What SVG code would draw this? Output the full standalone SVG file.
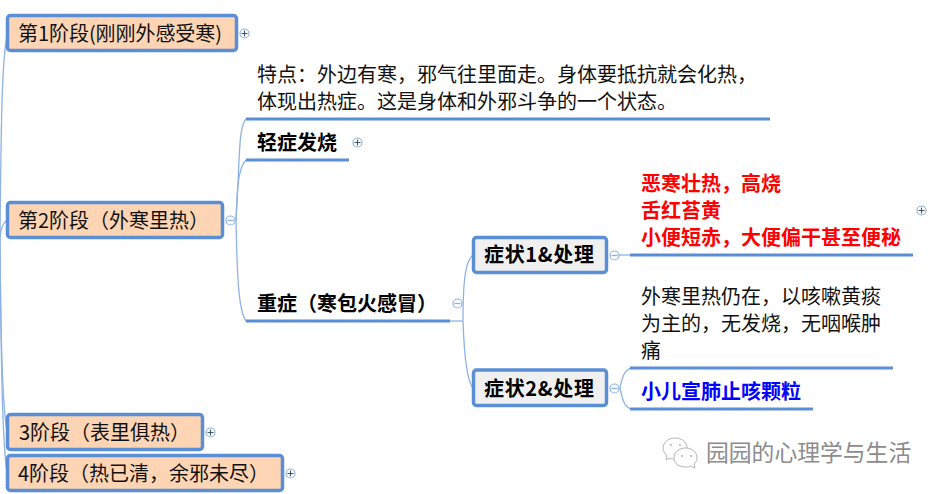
<svg xmlns="http://www.w3.org/2000/svg" width="942" height="494" viewBox="0 0 942 494">
<style>
text{font-family:"Noto Sans CJK SC","Liberation Sans",sans-serif;font-size:20px;fill:#111}
.b{font-weight:700;fill:#000}
.box{fill:#fdd5b4;stroke:#5a8fd6;stroke-width:3.5}
.gbox{fill:#f0f0f0;stroke:#5a8fd6;stroke-width:3.5}
.ul{stroke:#5a8fd6;stroke-width:3;fill:none}
.c{stroke:#8fb3e4;stroke-width:1.3;fill:none}
.tg{fill:#fff;stroke:#8fb3e4;stroke-width:1.2}
.sg{stroke:#44546a;stroke-width:1.1;fill:none}
.ic{fill:#fff;stroke:#b5b5b5;stroke-width:1}
.eye{fill:#b5b5b5}
</style>
<g id="connectors">
<path class="c" d="M0 244C1 120 2 60 7 36"/>
<path class="c" d="M0 244C0 230 2 224 7 220"/>
<path class="c" d="M0 244C1 340 2 400 7 432"/>
<path class="c" d="M0 244C1 350 2 440 7 473"/>
<path class="c" d="M236 220C240 160 238 128 246 119"/>
<path class="c" d="M236 220C237 190 238 168 246 160"/>
<path class="c" d="M236 220C237 270 238 310 246 321"/>
<path class="c" d="M450 321H463"/>
<path class="c" d="M463 321C463 290 464 262 473 255"/>
<path class="c" d="M463 321C464 350 466 380 473 388"/>
<path class="c" d="M619 255H630"/>
<path class="c" d="M620 388C622 378 624 370 631 368"/>
<path class="c" d="M620 388C622 398 624 407 631 409"/>
</g>
<g id="n1"><rect class="box" x="7.500" y="15.500" width="229" height="35" rx="3"/><text x="18" y="41" textLength="204">第1阶段(刚刚外感受寒)</text><circle class="tg" cx="244.500" cy="33.500" r="4.500"/><path class="sg" d="M241.500 33.500h6M244.500 30.500v6"/></g>
<g id="n2"><rect class="box" x="7.500" y="202.500" width="215" height="35" rx="3"/><text x="18" y="228">第2阶段（外寒里热）</text><circle class="tg" cx="230.500" cy="220.500" r="4.500"/><path class="c" d="M227.500 220.500h6"/></g>
<g id="n3"><rect class="box" x="7.500" y="414.500" width="195" height="35" rx="3"/><text x="19" y="440">3阶段（表里俱热）</text><circle class="tg" cx="210.500" cy="432.500" r="4.500"/><path class="sg" d="M207.500 432.500h6M210.500 429.500v6"/></g>
<g id="n4"><rect class="box" x="7.500" y="455.500" width="275" height="35" rx="3"/><text x="18" y="481">4阶段（热已清，余邪未尽）</text><circle class="tg" cx="290.500" cy="473.500" r="4.500"/><path class="sg" d="M287.500 473.500h6M290.500 470.500v6"/></g>
<g id="n5"><text x="257" y="82">特点：外边有寒，邪气往里面走。身体要抵抗就会化热，</text><text x="257" y="109">体现出热症。这是身体和外邪斗争的一个状态。</text><path class="ul" d="M246 119H770"/></g>
<g id="n6"><text class="b" x="257" y="150">轻症发烧</text><path class="ul" d="M246 160H349"/><circle class="tg" cx="357.500" cy="142.500" r="4.500"/><path class="sg" d="M354.500 142.500h6M357.500 139.500v6"/></g>
<g id="n7"><text class="b" x="257" y="311">重症（寒包火感冒）</text><path class="ul" d="M246 321H450"/><circle class="tg" cx="457.500" cy="303.500" r="4.500"/><path class="c" d="M454.500 303.500h6"/></g>
<g id="n8"><rect class="gbox" x="473.500" y="237.500" width="133" height="35" rx="3"/><text class="b" x="484" y="262" textLength="110">症状1&amp;处理</text><circle class="tg" cx="614.500" cy="255.500" r="4.500"/><path class="c" d="M611.500 255.500h6"/></g>
<g id="n9"><rect class="gbox" x="473.500" y="370" width="133" height="35.500" rx="3"/><text class="b" x="484" y="396" textLength="110">症状2&amp;处理</text><circle class="tg" cx="614.500" cy="388.500" r="4.500"/><path class="c" d="M611.500 388.500h6"/></g>
<g id="n10"><text class="b" style="fill:#f00" x="641" y="191">恶寒壮热，高烧</text><text class="b" style="fill:#f00" x="641" y="218">舌红苔黄</text><text class="b" style="fill:#f00" x="641" y="245">小便短赤，大便偏干甚至便秘</text><path class="ul" d="M630 255H913"/><circle class="tg" cx="921.500" cy="210.500" r="4.500"/><path class="sg" d="M918.500 210.500h6M921.500 207.500v6"/></g>
<g id="n11"><text x="641" y="304">外寒里热仍在，以咳嗽黄痰</text><text x="641" y="331">为主的，无发烧，无咽喉肿</text><text x="641" y="358">痛</text><path class="ul" d="M630 368H893"/></g>
<g id="n12"><text class="b" style="fill:#00f" x="641" y="399">小儿宣肺止咳颗粒</text><path class="ul" d="M630 409H813"/></g>
<g id="watermark">
<path class="ic" d="M675 438c-7 0-12 5-12 10 0 3 2 6 4 8l-1 4 4-2c2 1 3 1 5 1 7 0 12-5 12-11s-5-10-12-10z"/>
<circle class="eye" cx="671" cy="445" r="1"/><circle class="eye" cx="680" cy="445" r="1"/>
<path class="ic" d="M686 448c-7 0-12 4-12 10s5 9 12 9c2 0 3 0 4-1l5 2-1-4c2-2 3-4 3-6 0-6-5-10-11-10z"/>
<circle class="eye" cx="682" cy="456" r="1"/><circle class="eye" cx="691" cy="456" r="1"/>
<text x="706" y="461" style="font-size:22.800px;fill:#8c8c8c">园园的心理学与生活</text>
</g>
</svg>
